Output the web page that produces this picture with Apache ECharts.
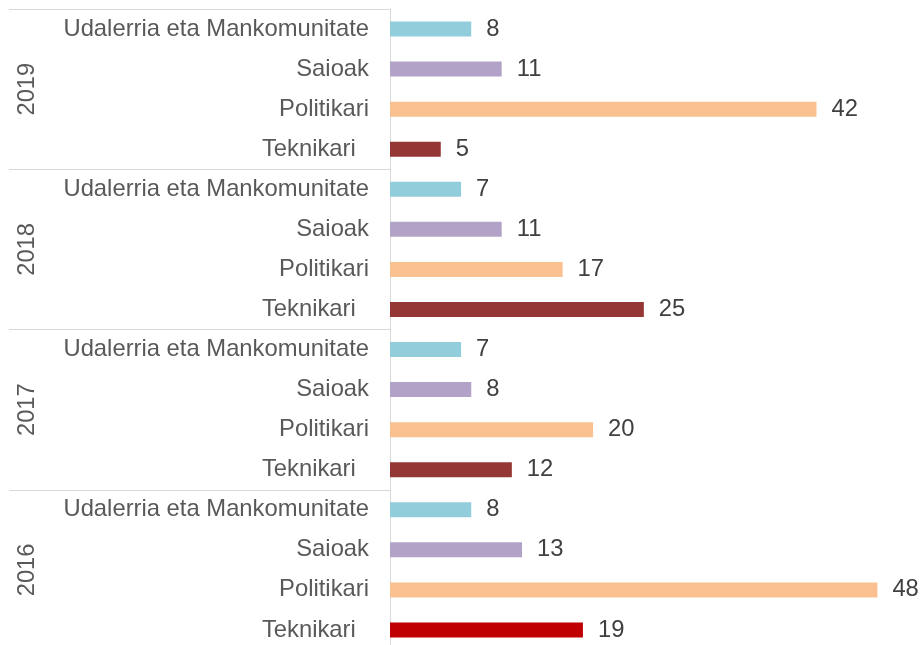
<!DOCTYPE html>
<html>
<head>
<meta charset="utf-8">
<script src="https://cdn.jsdelivr.net/npm/echarts@6/dist/echarts.min.js"></script>
<style>
  html, body { margin: 0; padding: 0; background: #fff; }
  #chart { width: 923px; height: 645px; }
</style>
</head>
<body>
<div id="chart"></div>
<script>
// years, top to bottom
var years = ['2019', '2018', '2017', '2016']
var types = ['Udalerria eta Mankomunitate', 'Saioak', 'Politikari', 'Teknikari']
// values per year, in the order of types
var values2019 = [8, 11, 42, 5]
var values2018 = [7, 11, 17, 25]
var values2017 = [7, 8, 20, 12]
var values2016 = [8, 13, 48, 19]

var typeColors = {
  'Udalerria eta Mankomunitate': '#92CDDC',
  'Saioak': '#B3A2C7',
  'Politikari': '#FAC090',
  'Teknikari': '#953735'
}

var categories = []
var values = []
var yearValues = [values2019, values2018, values2017, values2016]
years.forEach(function (y, i) {
  types.forEach(function (t, j) {
    categories.push(t)
    values.push(yearValues[i][j])
  })
})

var chart = echarts.init(document.getElementById('chart'))
var font = 'Arial, "Liberation Sans", sans-serif'
chart.setOption({
  animation: false,
  grid: { left: 390, top: 9, height: 641, right: 5, outerBoundsMode: 'none' },
  xAxis: {
    type: 'value',
    min: 0,
    max: 52,
    show: false
  },
  yAxis: [
    {
      type: 'category',
      data: categories,
      inverse: true,
      position: 'left',
      axisLine: { show: true, lineStyle: { color: '#d9d9d9', width: 1 } },
      axisTick: { show: false },
      axisLabel: {
        margin: 21,
        fontSize: 23.8,
        fontFamily: font,
        color: '#595959',
        // Teknikari sits a little further from the axis
        formatter: function (v) { return v === 'Teknikari' ? v + '  ' : v }
      }
    },
    {
      type: 'category',
      data: years,
      inverse: true,
      position: 'left',
      offset: 0,
      axisLine: { show: false },
      axisTick: { show: true, length: 381, lineStyle: { color: '#d9d9d9', width: 1 } },
      axisLabel: {
        rotate: 90,
        margin: 351,
        fontSize: 23.8,
        fontFamily: font,
        color: '#595959'
      }
    }
  ],
  series: [
    {
      type: 'bar',
      yAxisIndex: 0,
      data: values,
      barWidth: 15,
      itemStyle: {
        color: function (p) {
          if (p.dataIndex === categories.length - 1) return '#C00000'
          return typeColors[categories[p.dataIndex]]
        }
      },
      label: {
        show: true,
        position: 'right',
        distance: 15,
        fontSize: 23.8,
        fontFamily: font,
        color: '#404040'
      }
    }
  ]
})
</script>
</body>
</html>
